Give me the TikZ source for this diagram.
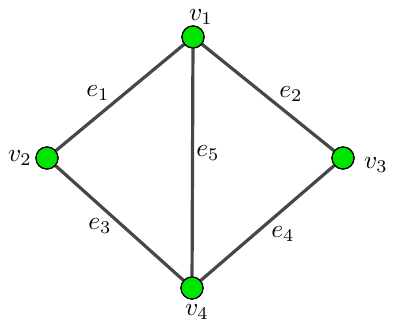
\documentclass[tikz,border=0pt]{standalone}
\begin{document}
\begin{tikzpicture}[x=1pt,y=-1pt,
  vert/.style={circle,draw=black,line width=1.2pt,fill=green!90!black,minimum size=22pt,inner sep=0pt},
  edge/.style={draw=black!72,line width=3.2pt},
  lbl/.style={inner sep=0pt,scale=2.55}]
\useasboundingbox (0,0) rectangle (393,322);
\node[vert] (v1) at (193,37) {};
\node[vert] (v2) at (47,158) {};
\node[vert] (v3) at (343,158) {};
\node[vert] (v4) at (192,288) {};
\draw[edge] (v1) -- (v2);
\draw[edge] (v1) -- (v3);
\draw[edge] (v1) -- (v4);
\draw[edge] (v2) -- (v4);
\draw[edge] (v3) -- (v4);
\node[vert] at (v1) {};
\node[vert] at (v2) {};
\node[vert] at (v3) {};
\node[vert] at (v4) {};
\node[lbl] (l1) at (201,17) {$v_1$};
\node[lbl] (l2) at (20,158) {$v_2$};
\node[lbl] (l3) at (376,165) {$v_3$};
\node[lbl] (l4) at (197,312) {$v_4$};
\node[lbl] (e1) at (98,93) {$e_1$};
\node[lbl] (e2) at (291,94) {$e_2$};
\node[lbl] (e3) at (100,226) {$e_3$};
\node[lbl] (e4) at (283,234) {$e_4$};
\node[lbl] (e5) at (208,153) {$e_5$};
\end{tikzpicture}
\end{document}
